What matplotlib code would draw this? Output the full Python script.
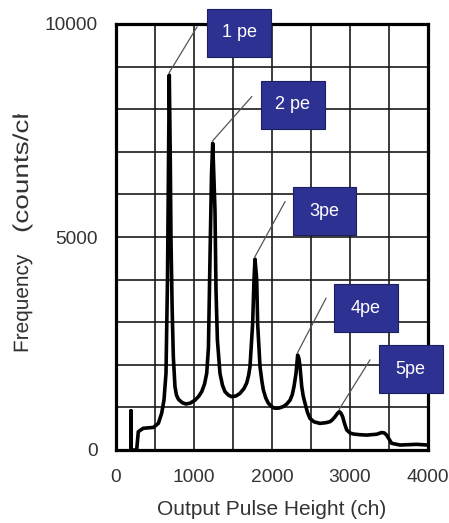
import matplotlib
matplotlib.use('Agg')
import matplotlib.pyplot as plt
from matplotlib.patches import Rectangle, PathPatch
from matplotlib.textpath import TextPath
from matplotlib.font_manager import FontProperties
from matplotlib.transforms import Bbox, Affine2D

# pulse height spectrum (channel, counts)
channel = [192, 192, 192, 265, 286, 350, 479, 543, 585, 615, 641, 660, 672, 683,
           695, 705, 720, 735, 756, 775, 800, 850, 897, 950, 1013, 1060, 1099, 1135,
           1163, 1185, 1205, 1225, 1240, 1255, 1269, 1282, 1300, 1333, 1365, 1397,
           1440, 1483, 1540, 1590, 1640, 1675, 1700, 1718, 1752, 1769, 1782, 1795,
           1804, 1816, 1846, 1870, 1889, 1920, 1953, 2000, 2038, 2090, 2145, 2190,
           2231, 2260, 2282, 2308, 2329, 2345, 2359, 2381, 2400, 2423, 2455, 2487,
           2540, 2615, 2690, 2744, 2780, 2808, 2840, 2863, 2885, 2906, 2930, 2958,
           3000, 3043, 3120, 3214, 3342, 3406, 3440, 3470, 3534, 3641, 3750, 3855,
           3990]
counts = [0, 920, 0, 0, 430, 510, 530, 625, 860, 1170, 1800, 4000, 6500, 8800,
          7000, 4930, 3300, 2190, 1490, 1290, 1190, 1110, 1080, 1100, 1170, 1260, 1370, 1550,
          1800, 2400, 4500, 6500, 7200, 6400, 5630, 3760, 2580, 1800, 1520, 1370,
          1290, 1250, 1270, 1330, 1440, 1570, 1750, 1960, 2970, 3990, 4480, 4200,
          3990, 2970, 1960, 1620, 1410, 1220, 1100, 1010, 980, 985, 1020, 1080,
          1170, 1300, 1490, 1800, 2230, 2150, 1960, 1490, 1270, 1100, 880, 740,
          660, 625, 640, 665, 720, 780, 860, 900, 860, 780, 620, 470,
          400, 375, 360, 350, 370, 410, 400, 350, 157, 117, 125, 133,
          117]

# photoelectron peak labels
peak_labels = ['1 pe', '2 pe', '3pe', '4pe', '5pe']
peak_pos = [(683, 8800), (1240, 7200), (1782, 4480), (2329, 2230), (2863, 900)]

# label box centres and leader line tops, in data units
box_xy = [(1577, 9789), (2269, 8099), (2673, 5599), (3199, 3322), (3776, 1901)]
leader_end = [(1038, 9930), (1740, 8294), (2167, 5829), (2692, 3561), (3256, 2113)]
box_w, box_h = 820, 1127

xticks = [0, 1000, 2000, 3000, 4000]
yticks = [0, 5000, 10000]

text_col = '#333333'
box_col = '#2d3192'
fam = ['Liberation Sans', 'DejaVu Sans']

fig = plt.figure(figsize=(4.49, 5.23), dpi=100)
ax = fig.add_axes([116 / 449, 73 / 523, 312 / 449, 426 / 523])

ax.plot(channel, counts, color='black', lw=2.6, solid_joinstyle='round', zorder=3)

ax.set_xlim(0, 4000)
ax.set_ylim(0, 10000)
ax.set_xticks(range(0, 4001, 500))
ax.set_xticklabels([str(v) if v in xticks else '' for v in range(0, 4001, 500)])
ax.set_yticks(range(0, 10001, 1000))
ax.set_yticklabels([str(v) if v in yticks else '' for v in range(0, 10001, 1000)])
ax.tick_params(length=0, labelsize=13.8, labelcolor=text_col)
ax.tick_params(axis='x', pad=14)
ax.tick_params(axis='y', pad=13)
for lab in ax.get_xticklabels() + ax.get_yticklabels():
    lab.set_fontfamily(fam)
ax.grid(True, color='#1a1a1a', lw=1.2)
ax.set_axisbelow(True)
for sp in ax.spines.values():
    sp.set_linewidth(2.3)
    sp.set_zorder(4)

ax.set_xlabel('Output Pulse Height (ch)', fontsize=15, color=text_col,
              family=fam, labelpad=10)

# y label drawn as paths so the end can be cut off at the top of its frame
prop = FontProperties(family=fam)
ylab_parts = [
    (TextPath((0, 0), 'Frequency', size=20.8, prop=prop),
     Affine2D().rotate_deg(90).translate(28, 523 - 353)),
    (TextPath((0, 0), '(counts/ch)', size=21.5, prop=prop),
     Affine2D().scale(1.3, 1).rotate_deg(90).translate(28, 523 - 233)),
]
for path, tr in ylab_parts:
    patch = PathPatch(path, transform=tr, facecolor=text_col, edgecolor='none')
    fig.add_artist(patch)
    patch.set_clip_box(Bbox([[0, 0], [60, 523 - 114]]))

for (px, py), (lx, ly) in zip(peak_pos, leader_end):
    ax.plot([px, lx], [py + 60, ly], color='#555555', lw=0.9, clip_on=False, zorder=5)

for lab, (bx, by) in zip(peak_labels, box_xy):
    ax.add_patch(Rectangle((bx - box_w / 2, by - box_h / 2), box_w, box_h,
                           facecolor=box_col, edgecolor='#1c1f5e', lw=0.8,
                           clip_on=False, zorder=6))
    ax.text(bx, by, lab, ha='center', va='center', color='white', fontsize=13,
            family=fam, zorder=7)

fig.savefig('out.png', dpi=100)
